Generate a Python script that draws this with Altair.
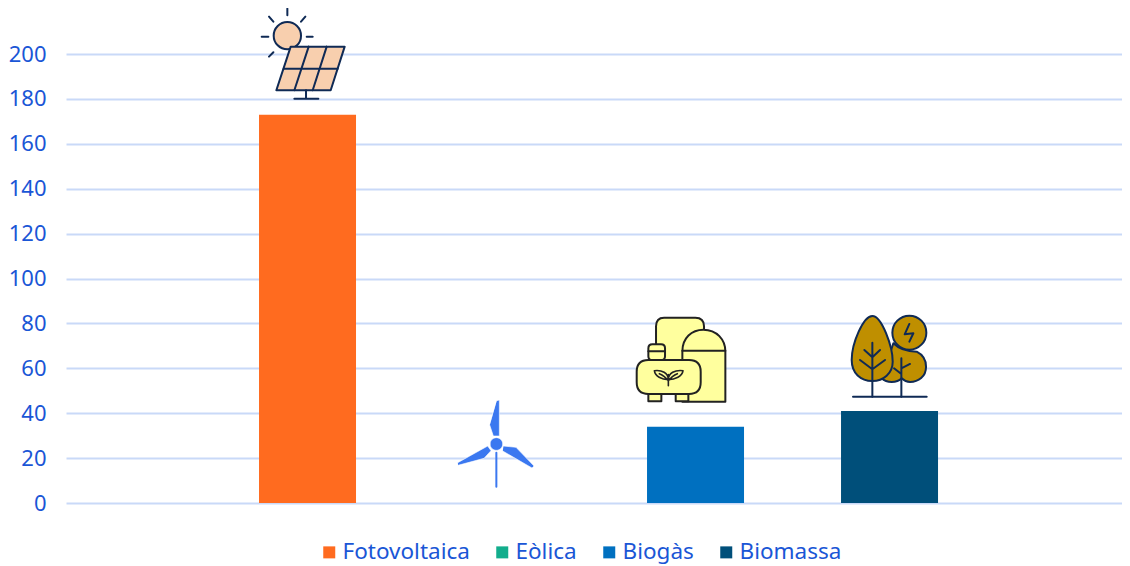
import re
import altair as alt
import pandas as pd

categories = ["Fotovoltaica", "Eòlica", "Biogàs", "Biomassa"]
values = [173, 0, 34, 41]
colors = ["#FF6B1F", "#12AD8C", "#0070C0", "#004F7A"]
tick_values = [0, 20, 40, 60, 80, 100, 120, 140, 160, 180, 200]

FONT = "Noto Sans"
TEXT = "#1A56D6"
GRID = "#C9D9F8"
NAVY = "#0F2A55"
DARK = "#222222"
PEACH = "#F8CFAE"
GOLD = "#BF8F00"
YELLOW = "#FFFF9E"
BLUE = "#3B78F0"


def circle(cx, cy, r):
    k = 0.5523 * r
    return (f"M{cx-r},{cy} C{cx-r},{cy-k} {cx-k},{cy-r} {cx},{cy-r} "
            f"C{cx+k},{cy-r} {cx+r},{cy-k} {cx+r},{cy} "
            f"C{cx+r},{cy+k} {cx+k},{cy+r} {cx},{cy+r} "
            f"C{cx-k},{cy+r} {cx-r},{cy+k} {cx-r},{cy} Z")


def rrect(x0, y0, x1, y1, r):
    return (f"M{x0+r},{y0} L{x1-r},{y0} Q{x1},{y0} {x1},{y0+r} "
            f"L{x1},{y1-r} Q{x1},{y1} {x1-r},{y1} "
            f"L{x0+r},{y1} Q{x0},{y1} {x0},{y1-r} "
            f"L{x0},{y0+r} Q{x0},{y0} {x0+r},{y0} Z")


def glyph(path, dx, dy):
    """Crop-scale drawing units to pixels around the mark's anchor."""
    vals = iter(range(10**6))
    def sub(m):
        v = float(m.group())
        return f"{v/3 + dx:.2f}" if next(vals) % 2 == 0 else f"{v/3 + dy:.2f}"
    return re.sub(r"-?\d+\.?\d*", sub, path)


# (path, fill, stroke, stroke width) in drawing order, per category
solar = [
    ("M142,24 L142,44 M87,48 L100,63 M196,48 L183,63 M65,108 L85,108 M200,108 L218,108 M87,168 L100,155", "none", NAVY, 2),
    (circle(142, 105, 41), PEACH, NAVY, 2),
    ("M152,138 L314,138 L272,269 L109,269 Z", PEACH, NAVY, 2),
    ("M131,204 L293,204 M206,138 L163,269 M260,138 L218,269 M198,269 L198,294 M163,294 L235,294", "none", NAVY, 2),
]
wind = [
    ("M169,188 L169,290", "none", BLUE, 2),
    ("M170,32 L178,30 L178,138 L160,138 L149,105 Z", BLUE, "#FFFFFF", 0.6),
    ("M53,218 L143,168 L153,182 L132,205 L54,226 Z", BLUE, "#FFFFFF", 0.6),
    ("M190,168 L228,172 L282,228 L276,234 L188,183 Z", BLUE, "#FFFFFF", 0.6),
    (circle(169, 162, 19), BLUE, "#FFFFFF", 0.6),
]
biogas = [
    ("M108,180 L108,80 Q108,54 132,54 L226,54 Q252,54 252,80 L252,270 L108,270 Z", YELLOW, DARK, 2),
    ("M187,306 L187,155 C187,115 215,90 250,90 C290,90 316,120 316,155 L316,306 Z", YELLOW, DARK, 2),
    ("M187,153 L316,153", "none", DARK, 2),
    ("M85,283 L124,283 L124,305 L85,305 Z", YELLOW, DARK, 2),
    ("M167,283 L205,283 L205,305 L167,305 Z", YELLOW, DARK, 2),
    (rrect(85, 134, 135, 182, 12), YELLOW, DARK, 2),
    ("M85,155 L135,155", "none", DARK, 2),
    (rrect(50, 181, 242, 283, 35), YELLOW, DARK, 2),
    ("M145,240 C125,240 105,230 103,213 C125,210 145,220 145,240 Z M145,240 C165,240 187,230 189,213 C165,210 145,220 145,240 Z M145,225 L145,258 M118,222 C128,226 138,234 145,244 M172,222 C162,226 152,234 145,244", YELLOW, DARK, 1.6),
]
biomass = [
    ("M699,290 L920,290", "none", NAVY, 2),
    ("M820,130 C835,145 860,155 890,155 C910,165 918,180 918,200 C918,230 895,246 870,246 C855,246 850,240 845,235 C835,245 825,246 815,246 C800,246 790,240 785,235 Z", GOLD, NAVY, 2),
    (circle(868, 98, 51), GOLD, NAVY, 2),
    ("M868,72 L854,103 L880,100 L868,125", "none", NAVY, 2),
    ("M844,175 L844,290 M844,205 L870,192 M822,205 L844,222", "none", NAVY, 2),
    ("M757,48 C785,48 818,140 818,185 C818,220 790,243 757,243 C722,243 695,220 695,180 C695,130 730,48 757,48 Z", GOLD, NAVY, 2),
    ("M757,128 L757,290 M733,150 L757,172 L780,150 M720,180 L757,208 L795,180", "none", NAVY, 2),
]
# category, parts, offset of the drawing relative to the anchor at the bar's top centre
icons = [
    ("Fotovoltaica", solar, 240 - 307.5, 0 - 114),
    ("Eòlica", wind, 440 - 501.5, 390 - 503),
    ("Biogàs", biogas, 620 - 695.5, 300 - 427),
    ("Biomassa", biomass, 620 - 889.5, 300 - 411),
]

df = pd.DataFrame({"categoria": categories, "valor": values})

x_enc = alt.X("categoria:N", sort=categories, title=None,
              scale=alt.Scale(paddingInner=0.5, paddingOuter=0.9716, align=0.512), axis=None)
y_enc = alt.Y("valor:Q", title=None,
              scale=alt.Scale(domain=[0, 220.5], nice=False),
              axis=alt.Axis(values=tick_values, grid=True, gridColor=GRID, gridWidth=2,
                            domain=False, ticks=False, labelFont=FONT, labelFontSize=22,
                            labelColor=TEXT, labelPadding=20, labelBaseline="middle"))

bars = alt.Chart(df).mark_bar().encode(
    x=x_enc,
    y=y_enc,
    color=alt.Color("categoria:N", sort=categories, title=None,
                    scale=alt.Scale(domain=categories, range=colors),
                    legend=alt.Legend(orient="none", legendX=252, legendY=533, direction="horizontal",
                                      columns=4, symbolType="square", symbolSize=144,
                                      symbolStrokeWidth=0, symbolOpacity=1, labelFont=FONT,
                                      labelFontSize=22.5, labelColor=TEXT, labelLimit=300,
                                      labelOffset=2, columnPadding=21, padding=0)),
)

layers = [bars]
for cat, parts, dx, dy in icons:
    row = df[df["categoria"] == cat]
    for path, fill, stroke, sw in parts:
        mark = alt.Chart(row).mark_point(
            shape=glyph(path, dx, dy), size=4, filled=True, fill=fill, stroke=stroke,
            strokeWidth=sw, opacity=1, strokeJoin="round", strokeCap="round",
        ).encode(x=x_enc, y=y_enc)
        layers.append(mark)

chart = alt.layer(*layers).properties(
    width=1056, height=495,
    autosize=alt.AutoSizeParams(type="none"),
    padding={"left": 58, "top": 0, "right": 0, "bottom": 63},
    background="#FFFFFF",
).configure_view(stroke=None)

chart.save("out.html", embed_options={"renderer": "svg", "actions": False})
